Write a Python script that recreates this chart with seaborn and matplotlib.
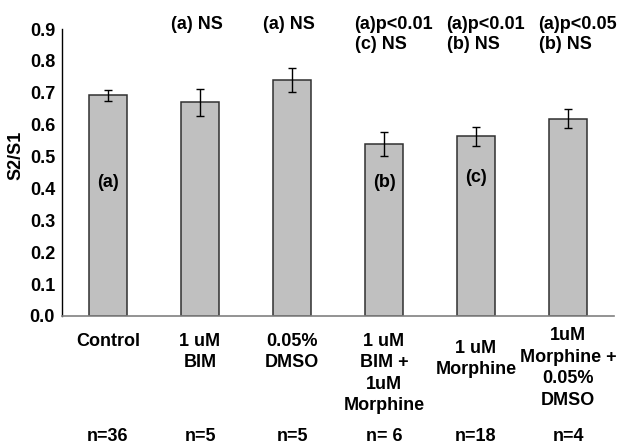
"""
S2/S1 ratio per treatment group, bar chart with SEM error bars.
"""
import matplotlib
matplotlib.use("Agg")
import matplotlib.pyplot as plt
import matplotlib.transforms as mtransforms
import numpy as np
import pandas as pd
import seaborn as sns

# data
groups = [
    "Control",
    "1 uM\nBIM",
    "0.05%\nDMSO",
    "1 uM\nBIM +\n1uM\nMorphine",
    "1 uM\nMorphine",
    "1uM\nMorphine +\n0.05%\nDMSO",
]
ratio = [0.692, 0.670, 0.740, 0.540, 0.564, 0.619]
sem = [0.017, 0.043, 0.038, 0.038, 0.030, 0.029]
n_labels = ["n=36", "n=5", "n=5", "n= 6", "n=18", "n=4"]
stats_labels = ["", "(a) NS", "(a) NS", "(a)p<0.01\n(c) NS", "(a)p<0.01\n(b) NS", "(a)p<0.05\n(b) NS"]
bar_letters = ["(a)", "", "", "(b)", "(c)", ""]
letter_y = [0.42, 0, 0, 0.42, 0.433, 0]
yticks = [0.0, 0.1, 0.2, 0.3, 0.4, 0.5, 0.6, 0.7, 0.8, 0.9]

df = pd.DataFrame({"group": groups, "ratio": ratio, "sem": sem})

sns.set_style("white")
plt.rcParams["font.family"] = ["Liberation Sans", "DejaVu Sans"]
plt.rcParams["font.weight"] = "bold"
for k in ["text.color", "axes.labelcolor", "xtick.color", "ytick.color"]:
    plt.rcParams[k] = "black"
FS = 13

fig = plt.figure(figsize=(6.26, 4.45), dpi=100)
ax = fig.add_axes([62 / 626, 1 - 316 / 445, 552 / 626, 287 / 445])

sns.barplot(data=df, x="group", y="ratio", color="#c0c0c0", edgecolor="#303030",
            linewidth=1.1, width=0.41, saturation=1, errorbar=None, ax=ax)
xs = np.arange(len(groups))
ax.errorbar(xs, df["ratio"], yerr=df["sem"], fmt="none", ecolor="black",
            elinewidth=1.0, capsize=2.6, capthick=1.0)

ax.set_xlim(-0.5, len(groups) - 0.5)
ax.set_ylim(0, 0.9)
ax.set_yticks(yticks)
ax.set_yticklabels([f"{v:.1f}" for v in yticks], fontsize=FS, fontweight="bold")

# category boundaries get the tick marks, centres get the labels
ax.set_xticks(xs)
ax.set_xticklabels(groups, fontsize=FS, fontweight="bold")
ax.set_xticks(np.arange(-0.5, len(groups)), minor=True)
ax.tick_params(axis="x", which="major", length=0, pad=12)
ax.tick_params(axis="x", which="minor", length=4, width=1, color="black", direction="out")
ax.tick_params(axis="y", length=4, width=1, color="black", direction="out", pad=1)
ax.set_xlabel("")

for s in ["top", "right"]:
    ax.spines[s].set_visible(False)
ax.spines["left"].set_color("black")
ax.spines["left"].set_linewidth(1)
ax.spines["bottom"].set_color("#808080")
ax.spines["bottom"].set_linewidth(1.2)

ax.set_ylabel("S2/S1", fontsize=FS, fontweight="bold")
ax.yaxis.set_label_coords(-0.068, 0.56)

# small vertical nudges of a couple of labels, as in the original
nudges = [0, 0, 0, 0, -5, 4]
for lab, dy in zip(ax.get_xticklabels(), nudges):
    lab.set_linespacing(1.35)
    if dy:
        lab.set_transform(lab.get_transform() + mtransforms.ScaledTranslation(0, dy / 72, fig.dpi_scale_trans))

xt = ax.get_xaxis_transform()
for x, txt in zip(xs, n_labels):
    ax.text(x, -0.42, txt, transform=xt, ha="center", va="center",
            fontsize=FS, fontweight="bold", clip_on=False)

for x, txt in zip(xs, stats_labels):
    if not txt:
        continue
    if "\n" in txt:
        ax.text(x - 0.32, 1.045, txt, transform=xt, ha="left", va="top",
                fontsize=FS, fontweight="bold", linespacing=1.22, clip_on=False)
    else:
        ax.text(x - 0.03, 1.045, txt, transform=xt, ha="center", va="top",
                fontsize=FS, fontweight="bold", clip_on=False)

for x, txt, y in zip(xs, bar_letters, letter_y):
    if txt:
        ax.text(x, y, txt, ha="center", va="center", fontsize=FS, fontweight="bold")

fig.savefig("out.png", dpi=100)
plt.close(fig)
